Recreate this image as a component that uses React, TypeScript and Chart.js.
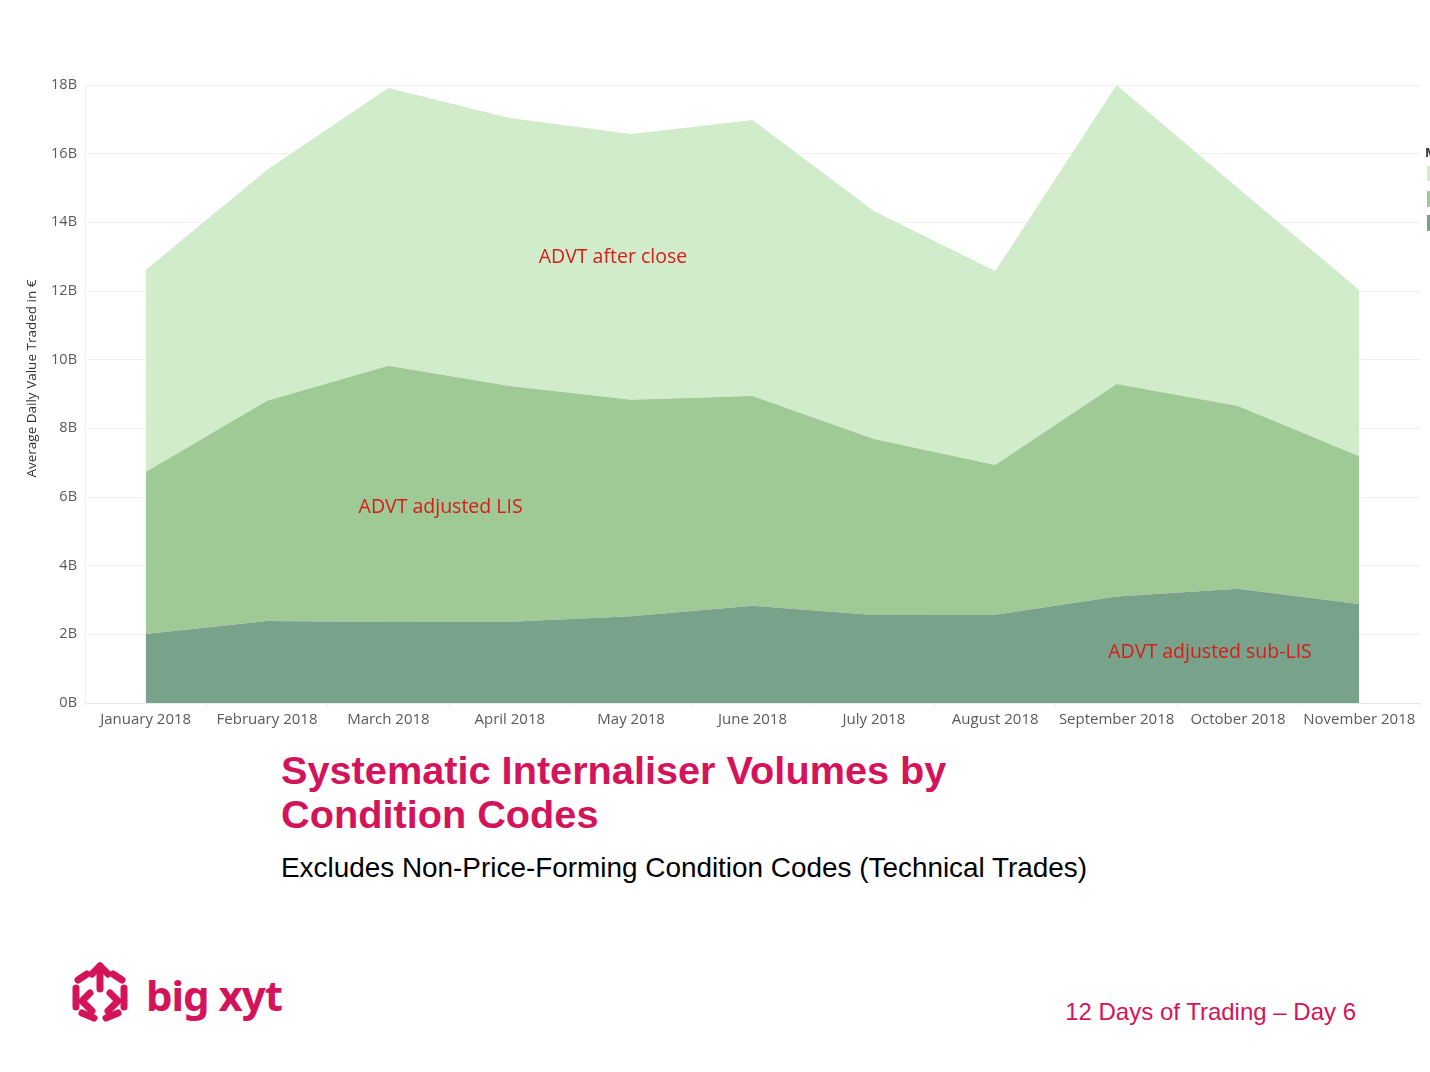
import React, { useEffect, useRef } from "react";
import { Chart, registerables } from "chart.js";

Chart.register(...registerables);

const months = [
  "January 2018", "February 2018", "March 2018", "April 2018", "May 2018", "June 2018",
  "July 2018", "August 2018", "September 2018", "October 2018", "November 2018",
];
// values in billions of €
const subLis = [2.01, 2.39, 2.36, 2.37, 2.53, 2.83, 2.56, 2.57, 3.10, 3.33, 2.88];
const adjLis = [4.72, 6.41, 7.46, 6.86, 6.30, 6.11, 5.13, 4.36, 6.19, 5.32, 4.31];
const afterClose = [5.88, 6.73, 8.09, 7.81, 7.74, 8.04, 6.64, 5.65, 8.71, 6.35, 4.84];

const seriesNames = ["ADVT adjusted sub-LIS", "ADVT adjusted LIS", "ADVT after close"];
const seriesColors = ["#78a38a", "#9fc995", "#d1eccb"];
const yAxisTitle = "Average Daily Value Traded in €";

// label anchors in data space: [text, category index, value in B]
const labelAnchors: [string, number, number][] = [
  ["ADVT after close", 3.85, 12.99],
  ["ADVT adjusted LIS", 2.43, 5.71],
  ["ADVT adjusted sub-LIS", 8.77, 1.46],
];

const FONT = "'Open Sans', 'DejaVu Sans', sans-serif";

export default function App() {
  const ref = useRef<HTMLCanvasElement | null>(null);

  useEffect(() => {
    document.body.style.margin = "0";
    const canvas = ref.current;
    if (!canvas) return;

    const labelPlugin = {
      id: "areaLabels",
      afterDatasetsDraw(chart: any) {
        const { ctx, scales } = chart;
        ctx.save();
        ctx.font = `19.5px ${FONT}`;
        ctx.fillStyle = "#d81b1b";
        ctx.textAlign = "center";
        ctx.textBaseline = "middle";
        const x0 = scales.x.getPixelForValue(0);
        const dx = scales.x.getPixelForValue(1) - x0;
        labelAnchors.forEach(([t, xi, yv]) => {
          ctx.fillText(t, x0 + xi * dx, scales.y.getPixelForValue(yv));
        });
        ctx.font = `13.5px ${FONT}`;
        ctx.fillStyle = "#333333";
        ctx.translate(32, scales.y.getPixelForValue(9.45));
        ctx.rotate(-Math.PI / 2);
        ctx.fillText(yAxisTitle, 0, 0);
        ctx.restore();
      },
    };

    const data = [subLis, adjLis, afterClose];
    const chart = new Chart(canvas, {
      type: "line",
      data: {
        labels: months,
        datasets: data.map((d, i) => ({
          label: seriesNames[i],
          data: d,
          backgroundColor: seriesColors[i],
          borderColor: seriesColors[i],
          borderWidth: 0,
          pointRadius: 0,
          tension: 0,
          fill: i === 0 ? "origin" : "-1",
        })),
      },
      options: {
        responsive: false,
        animation: false,
        layout: { padding: { top: 85, right: 10, left: 0, bottom: 0 } },
        plugins: { legend: { display: false }, tooltip: { enabled: false } },
        scales: {
          x: {
            offset: true,
            grid: { offset: true, color: "#f0f0f0", tickLength: 5, drawOnChartArea: false },
            border: { color: "#e8e8e8" },
            ticks: { color: "#595959", font: { family: FONT, size: 15 }, padding: 3, maxRotation: 0, autoSkip: false },
            afterFit: (s: any) => { s.height = 37; },
          },
          y: {
            stacked: true,
            min: 0,
            max: 18,
            grid: { color: "#f0f0f0", drawTicks: false },
            border: { display: true, color: "#f0f0f0" },
            ticks: {
              stepSize: 2,
              color: "#595959",
              padding: 8,
              font: { family: FONT, size: 14.5 },
              callback: (v: any) => `${v}B`,
            },
            afterFit: (s: any) => { s.width = 85; },
          },
        },
      },
      plugins: [labelPlugin],
    } as any);
    return () => chart.destroy();
  }, []);

  const pink = "#d4145a";
  return (
    <div style={{ position: "relative", width: 1430, height: 1072, background: "#fff", overflow: "hidden" }}>
      <canvas ref={ref} width={1430} height={740} style={{ position: "absolute", left: 0, top: 0, width: 1430, height: 740 }} />
      <div style={{ position: "absolute", left: 1425, top: 143, font: `bold 13px ${FONT}`, color: "#333" }}>M</div>
      <div style={{ position: "absolute", left: 1427, top: 166, width: 6, height: 15, background: seriesColors[2] }} />
      <div style={{ position: "absolute", left: 1427, top: 191, width: 6, height: 16, background: seriesColors[1] }} />
      <div style={{ position: "absolute", left: 1427, top: 215, width: 6, height: 16, background: seriesColors[0] }} />

      <div style={{ position: "absolute", left: 281, top: 748, font: "bold 39.7px 'Liberation Sans', Arial, sans-serif", lineHeight: "44px", color: pink }}>
        Systematic Internaliser Volumes by<br />Condition Codes
      </div>
      <div style={{ position: "absolute", left: 281, top: 852, font: "27.9px 'Liberation Sans', Arial, sans-serif", color: "#000" }}>
        Excludes Non-Price-Forming Condition Codes (Technical Trades)
      </div>
      <div style={{ position: "absolute", right: 1430 - 1356, top: 998, font: "24px 'Liberation Sans', Arial, sans-serif", color: pink }}>
        12 Days of Trading – Day 6
      </div>
      <svg style={{ position: "absolute", left: 66, top: 955 }} width={230} height={75}>
        <g stroke={pink} strokeWidth={7} strokeLinecap="round" strokeLinejoin="round" fill="none">
          <polyline points="26,19 34,11 42,19" />
          <line x1={34} y1={11} x2={34} y2={34} />
          <line x1={21} y1={19} x2={12} y2={25} />
          <line x1={47} y1={19} x2={56} y2={25} />
          <line x1={10} y1={33} x2={10} y2={52} />
          <line x1={58} y1={33} x2={58} y2={52} />
          <polyline points="24,38 16,46 26,56" />
          <polyline points="44,38 52,46 42,56" />
          <line x1={16} y1={58} x2={28} y2={63} />
          <line x1={52} y1={58} x2={40} y2={63} />
        </g>
        <text x={80} y={56} fill={pink} style={{ font: "bold 42px 'Noto Sans', 'DejaVu Sans', sans-serif", letterSpacing: "-1px" }}>
          big xyt
        </text>
      </svg>
    </div>
  );
}
